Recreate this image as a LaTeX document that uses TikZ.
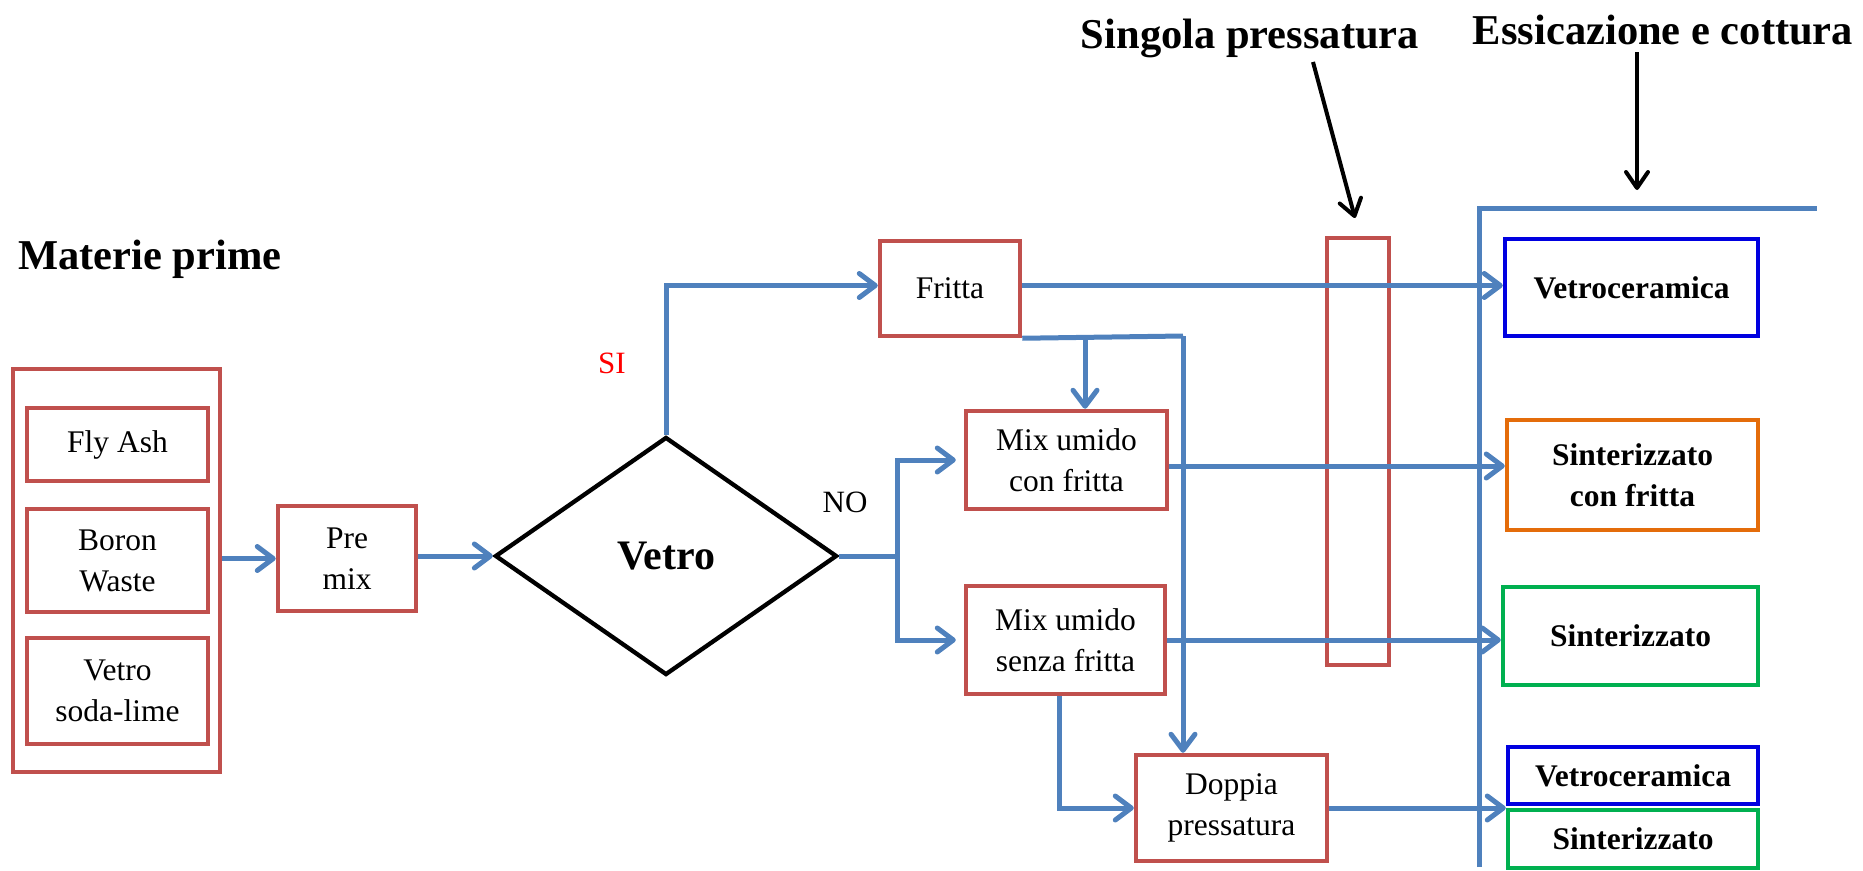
\documentclass[tikz,border=0pt]{standalone}
\usepackage{fontspec}
\setmainfont{Liberation Serif}
\usetikzlibrary{arrows.meta,shapes.geometric}
\definecolor{boxred}{HTML}{C0504D}
\definecolor{lineblue}{HTML}{4F81BD}
\definecolor{resblue}{HTML}{0000E0}
\definecolor{resorange}{HTML}{E46C0A}
\definecolor{resgreen}{HTML}{00B050}
\begin{document}
\begin{tikzpicture}[x=1pt,y=-1pt,
  redbox/.style={draw=boxred, line width=4.5pt, fill=white, rectangle, inner sep=0pt, align=center, font=\fontsize{31.5}{41}\selectfont},
  resbox/.style={draw, line width=4.5pt, fill=white, rectangle, inner sep=0pt, align=center, font=\fontsize{31.5}{41}\selectfont\bfseries},
  flow/.style={draw=lineblue, line width=5pt},
  arr/.style={flow, -{Straight Barb[length=16pt,width=24pt,round]}},
  title/.style={font=\fontsize{42.5}{50}\selectfont\bfseries, inner sep=0pt},
  lbl/.style={font=\fontsize{31}{38}\selectfont, inner sep=0pt},
  pointer/.style={draw=black, line width=4pt, -{Straight Barb[length=16pt,width=22pt,round]}}
]
\useasboundingbox (0,0) rectangle (1863,870);

% titles
\node[title, anchor=west] (mp) at (18,259) {Materie prime};
\node[title] (sp) at (1250,38) {Singola pressatura};
\node[title] (ec) at (1663,30) {Essicazione e cottura};

% raw materials
\node[redbox, minimum width=207pt, minimum height=403pt] (raw) at (116.5,570.5) {};
\node[redbox, minimum width=181pt, minimum height=73pt] (fly) at (117.5,444.5) {Fly Ash};
\node[redbox, minimum width=181pt, minimum height=103pt] (boron) at (117.5,560.5) {Boron\\Waste};
\node[redbox, minimum width=181pt, minimum height=106pt] (soda) at (117.5,691) {Vetro\\soda-lime};
\node[redbox, minimum width=138pt, minimum height=105pt] (premix) at (347,558.5) {Pre\\mix};

% decision
\node[draw=black, line width=4.3pt, diamond, minimum width=342pt, minimum height=238pt, inner sep=0pt, font=\fontsize{42}{50}\selectfont\bfseries] (dia) at (666,556) {Vetro};
\node[lbl, text=red] (si) at (612,363) {SI};
\node[lbl] (no) at (845,502) {NO};

% process boxes
\node[redbox, minimum width=140pt, minimum height=95pt] (fritta) at (950,288.5) {Fritta};
\node[redbox, minimum width=201pt, minimum height=98pt] (mixcon) at (1066.5,460) {Mix umido\\con fritta};
\node[redbox, minimum width=199pt, minimum height=108pt] (mixsenza) at (1065.5,640) {Mix umido\\senza fritta};
\node[redbox, minimum width=191pt, minimum height=106pt] (doppia) at (1231.5,808) {Doppia\\pressatura};
\node[draw=boxred, line width=4.5pt, rectangle, minimum width=62pt, minimum height=427pt, inner sep=0pt] (press) at (1358,451.5) {};

% results
\node[resbox, draw=resblue, minimum width=253pt, minimum height=97pt] (vetro1) at (1631.5,287.5) {Vetroceramica};
\node[resbox, draw=resorange, minimum width=251pt, minimum height=110pt] (sintcon) at (1632.5,475) {Sinterizzato\\con fritta};
\node[resbox, draw=resgreen, minimum width=255pt, minimum height=98pt] (sint1) at (1630.5,636) {Sinterizzato};
\node[resbox, draw=resblue, minimum width=250pt, minimum height=57pt] (vetro2) at (1633,775.5) {Vetroceramica};
\node[resbox, draw=resgreen, minimum width=250pt, minimum height=58pt] (sint2) at (1633,839) {Sinterizzato};

% connectors
\draw[arr] (raw.east |- premix.west) -- (premix.west);
\draw[arr] (premix.east |- dia.west) -- (dia.west);
\draw[arr] (dia.north) |- ([yshift=3pt]fritta.west);
\coordinate (nob) at (897,556);
\draw[flow] (dia.east) -- (nob);
\draw[arr, shorten >=8pt] (nob) |- (mixcon.west);
\draw[arr, shorten >=8pt] (nob) |- (mixsenza.west);
\draw[arr] ([yshift=3pt]fritta.east) -- ([yshift=3pt]fritta.east -| vetro1.west);
\coordinate (fa) at (1085,336);
\coordinate (fb) at (1183,336);
\draw[flow] (fritta.south east) -- (fb);
\draw[arr] (fa) -- (fa |- mixcon.north);
\draw[arr] (fb) -- (fb |- doppia.north);
\draw[arr] ([yshift=-6pt]mixcon.east) -- ([yshift=-6pt]mixcon.east -| sintcon.west);
\draw[arr] (mixsenza.east) -- (mixsenza.east -| sint1.west);
\draw[arr] ([xshift=-6pt]mixsenza.south) |- (doppia.west);
\draw[arr] (doppia.east) -- (doppia.east -| vetro2.west);

% drying/firing bracket
\coordinate (bb) at (1479,867);
\coordinate (bc) at (1479,208);
\coordinate (be) at (1817,208);
\draw[flow] (bb) -- (bc) -- (be);

% pointers
\coordinate (p1s) at (1313,62);
\coordinate (p1e) at (1355,218);
\draw[pointer] (p1s) -- (p1e);
\coordinate (p2s) at (1637,52);
\coordinate (p2e) at (1637,190);
\draw[pointer] (p2s) -- (p2e);
\end{tikzpicture}
\end{document}
